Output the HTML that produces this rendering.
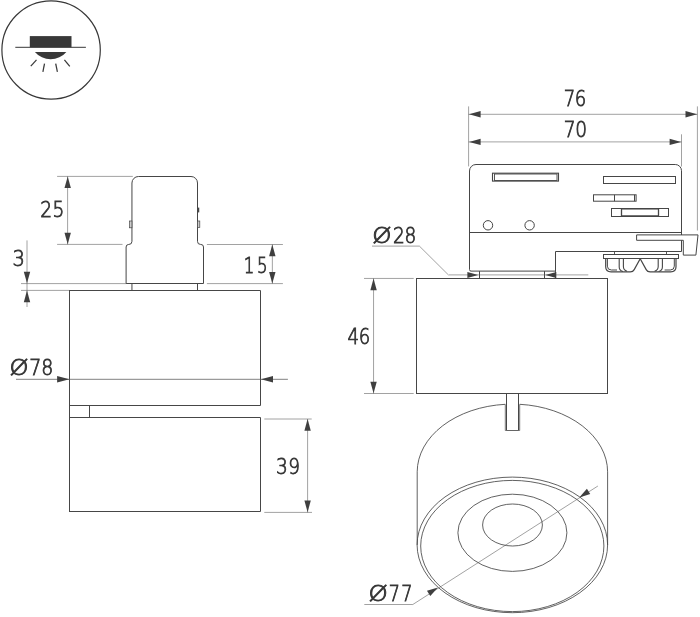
<!DOCTYPE html>
<html><head><meta charset="utf-8"><title>Drawing</title>
<style>html,body{margin:0;padding:0;background:#fff;overflow:hidden}svg{display:block;filter:grayscale(1)}text{font-family:"DejaVu Sans Light", "Liberation Sans", sans-serif}</style>
</head><body>
<svg width="700" height="617" viewBox="0 0 700 617">
<rect width="700" height="617" fill="#fff"/>
<circle cx="51.1" cy="50" r="49.2" fill="none" stroke="#383838" stroke-width="1.2"/>
<rect x="29.8" y="36.1" width="41.7" height="11.2" fill="#383838"/>
<line x1="15.30" y1="47.30" x2="85.90" y2="47.30" stroke="#383838" stroke-width="1.0"/>
<path d="M34.9 51.9 A20.6 20.6 0 0 0 66.4 51.9 Z" fill="#383838"/>
<line x1="36.50" y1="59.90" x2="30.80" y2="66.10" stroke="#383838" stroke-width="1.25"/>
<line x1="44.50" y1="63.70" x2="42.90" y2="71.80" stroke="#383838" stroke-width="1.25"/>
<line x1="55.70" y1="63.70" x2="57.40" y2="71.80" stroke="#383838" stroke-width="1.25"/>
<line x1="64.40" y1="59.80" x2="69.80" y2="66.30" stroke="#383838" stroke-width="1.25"/>
<path d="M126.1 283.5 L126.1 247.0 A2.6 2.6 0 0 1 128.7 244.45 L128.9 244.45 A3.05 3.1 0 0 0 131.95 241.35 L131.95 183.0 A6.5 6.5 0 0 1 138.45 176.5 L191.0 176.5 A6.5 6.5 0 0 1 197.5 183.0 L197.5 241.35 A3.1 3.1 0 0 0 200.6 244.45 L200.9 244.45 A2.6 2.6 0 0 1 203.5 247.0 L203.5 283.5 Z" stroke="#464646" stroke-width="1.0" fill="none" />
<rect x="129.60" y="221.00" width="2.35" height="6.80" stroke="#464646" stroke-width="0.7" fill="#ccc"/>
<rect x="197.50" y="221.00" width="2.30" height="6.40" stroke="#464646" stroke-width="0.7" fill="#ccc"/>
<line x1="198.50" y1="207.60" x2="198.50" y2="212.40" stroke="#464646" stroke-width="1.5"/>
<line x1="131.95" y1="283.50" x2="131.95" y2="290.50" stroke="#464646" stroke-width="1.0"/>
<line x1="197.50" y1="283.50" x2="197.50" y2="290.50" stroke="#464646" stroke-width="1.0"/>
<path d="M69.5 290.5 L260.5 290.5 L260.5 405.5 L69.5 405.5" stroke="#464646" stroke-width="1.0" fill="none" />
<path d="M69.5 417.5 L260.5 417.5 L260.5 511.5 L69.5 511.5" stroke="#464646" stroke-width="1.0" fill="none" />
<line x1="69.50" y1="290.00" x2="69.50" y2="512.00" stroke="#464646" stroke-width="1.0"/>
<line x1="89.50" y1="405.50" x2="89.50" y2="417.60" stroke="#464646" stroke-width="1.0"/>
<line x1="57.10" y1="176.40" x2="132.80" y2="176.40" stroke="#555" stroke-width="0.55"/>
<line x1="57.10" y1="244.40" x2="122.50" y2="244.40" stroke="#555" stroke-width="0.55"/>
<line x1="67.60" y1="176.40" x2="67.60" y2="244.40" stroke="#555" stroke-width="0.55"/>
<polygon points="67.70,176.50 70.90,188.10 64.50,188.10" fill="#3f3f3f"/>
<polygon points="67.70,244.30 64.50,232.70 70.90,232.70" fill="#3f3f3f"/>
<text y="217.47" font-family="'DejaVu Sans Light', 'Liberation Sans', sans-serif" font-size="21.28" fill="#363636" stroke="#363636" stroke-width="0.85"><tspan x="40.37" textLength="24.33" lengthAdjust="spacingAndGlyphs" letter-spacing="0.338">25</tspan></text>
<line x1="21.00" y1="283.60" x2="126.10" y2="283.60" stroke="#555" stroke-width="0.55"/>
<line x1="21.00" y1="290.40" x2="69.50" y2="290.40" stroke="#555" stroke-width="0.55"/>
<line x1="27.00" y1="240.40" x2="27.00" y2="307.00" stroke="#555" stroke-width="0.55"/>
<polygon points="27.00,283.30 23.80,271.70 30.20,271.70" fill="#3f3f3f"/>
<polygon points="27.00,290.60 30.20,302.20 23.80,302.20" fill="#3f3f3f"/>
<text y="266.12" font-family="'DejaVu Sans Light', 'Liberation Sans', sans-serif" font-size="21.14" fill="#363636" stroke="#363636" stroke-width="0.85"><tspan x="12.42" textLength="12.38" lengthAdjust="spacingAndGlyphs">3</tspan></text>
<line x1="206.90" y1="244.50" x2="282.90" y2="244.50" stroke="#555" stroke-width="0.55"/>
<line x1="206.90" y1="283.60" x2="282.90" y2="283.60" stroke="#555" stroke-width="0.55"/>
<line x1="272.35" y1="244.50" x2="272.35" y2="283.60" stroke="#555" stroke-width="0.55"/>
<polygon points="272.30,244.60 275.50,256.20 269.10,256.20" fill="#3f3f3f"/>
<polygon points="272.30,283.50 269.10,271.90 275.50,271.90" fill="#3f3f3f"/>
<text y="272.87" font-family="'DejaVu Sans Light', 'Liberation Sans', sans-serif" font-size="20.87" fill="#363636" stroke="#363636" stroke-width="0.85"><tspan x="243.74" textLength="26.68" lengthAdjust="spacingAndGlyphs" letter-spacing="3.448">15</tspan></text>
<line x1="16.00" y1="379.30" x2="287.90" y2="379.30" stroke="#555" stroke-width="0.75"/>
<polygon points="69.40,379.30 57.10,382.60 57.10,376.00" fill="#3f3f3f"/>
<polygon points="261.00,379.30 273.00,376.00 273.00,382.60" fill="#3f3f3f"/>
<text y="374.92" font-family="'DejaVu Sans Light', 'Liberation Sans', sans-serif" font-size="21.01" fill="#363636" stroke="#363636" stroke-width="0.85"><tspan x="9.42" textLength="19.09" lengthAdjust="spacingAndGlyphs">Ø</tspan><tspan x="29.36" textLength="23.83" lengthAdjust="spacingAndGlyphs" letter-spacing="-0.184">78</tspan></text>
<line x1="264.30" y1="419.00" x2="311.70" y2="419.00" stroke="#555" stroke-width="0.55"/>
<line x1="264.30" y1="512.40" x2="312.00" y2="512.40" stroke="#555" stroke-width="0.55"/>
<line x1="307.60" y1="419.00" x2="307.60" y2="512.40" stroke="#555" stroke-width="0.55"/>
<polygon points="307.60,419.10 310.80,430.70 304.40,430.70" fill="#3f3f3f"/>
<polygon points="307.60,512.20 304.40,500.60 310.80,500.60" fill="#3f3f3f"/>
<text y="474.17" font-family="'DejaVu Sans Light', 'Liberation Sans', sans-serif" font-size="21.01" fill="#363636" stroke="#363636" stroke-width="0.85"><tspan x="276.09" textLength="24.16" lengthAdjust="spacingAndGlyphs" letter-spacing="0.381">39</tspan></text>
<line x1="468.60" y1="106.40" x2="468.60" y2="166.40" stroke="#555" stroke-width="0.55"/>
<line x1="681.50" y1="134.30" x2="681.50" y2="166.50" stroke="#555" stroke-width="0.55"/>
<line x1="697.40" y1="106.40" x2="697.40" y2="230.50" stroke="#555" stroke-width="0.55"/>
<line x1="468.60" y1="114.30" x2="697.40" y2="114.30" stroke="#555" stroke-width="0.55"/>
<line x1="468.60" y1="141.90" x2="681.50" y2="141.90" stroke="#555" stroke-width="0.55"/>
<polygon points="469.00,114.30 480.60,111.10 480.60,117.50" fill="#3f3f3f"/>
<polygon points="697.10,114.30 685.50,117.50 685.50,111.10" fill="#3f3f3f"/>
<polygon points="469.00,141.90 480.60,138.70 480.60,145.10" fill="#3f3f3f"/>
<polygon points="681.20,141.90 669.60,145.10 669.60,138.70" fill="#3f3f3f"/>
<text y="106.02" font-family="'DejaVu Sans Light', 'Liberation Sans', sans-serif" font-size="21.14" fill="#363636" stroke="#363636" stroke-width="0.85"><tspan x="563.83" textLength="22.08" lengthAdjust="spacingAndGlyphs" letter-spacing="-0.567">76</tspan></text>
<text y="136.62" font-family="'DejaVu Sans Light', 'Liberation Sans', sans-serif" font-size="20.87" fill="#363636" stroke="#363636" stroke-width="0.85"><tspan x="563.79" textLength="23.04" lengthAdjust="spacingAndGlyphs" letter-spacing="-0.320">70</tspan></text>
<path d="M469.5 269.6 L469.5 171.0 A6.5 6.5 0 0 1 476.0 164.5 L675.3 164.5 A6.2 6.2 0 0 1 681.5 170.7 L681.5 251.5 L555.5 251.5 L555.5 271.1 L471.0 271.1 A1.5 1.5 0 0 1 469.5 269.6 Z" stroke="#464646" stroke-width="1.0" fill="none" />
<line x1="469.50" y1="232.50" x2="681.50" y2="232.50" stroke="#464646" stroke-width="1.0"/>
<line x1="555.50" y1="271.10" x2="555.50" y2="278.50" stroke="#464646" stroke-width="1.0"/>
<rect x="492.50" y="173.20" width="66.00" height="7.90" stroke="#464646" stroke-width="1.1" fill="none"/>
<rect x="494.50" y="174.00" width="62.50" height="6.50" stroke="#464646" stroke-width="0.9" fill="none"/>
<rect x="603.50" y="176.50" width="72.00" height="7.00" stroke="#464646" stroke-width="1.0" fill="none"/>
<rect x="593.50" y="194.80" width="42.60" height="6.40" stroke="#464646" stroke-width="1.0" fill="none"/>
<line x1="614.50" y1="194.80" x2="614.50" y2="201.20" stroke="#464646" stroke-width="1.0"/>
<line x1="634.50" y1="194.80" x2="634.50" y2="201.20" stroke="#464646" stroke-width="1.0"/>
<rect x="611.50" y="208.50" width="57.00" height="8.00" stroke="#464646" stroke-width="1.0" fill="none"/>
<rect x="621.50" y="208.90" width="37.00" height="7.00" stroke="#464646" stroke-width="1.3" fill="none"/>
<circle cx="488.0" cy="225.3" r="4.7" fill="none" stroke="#464646" stroke-width="1.0"/>
<circle cx="529.6" cy="225.3" r="4.7" fill="none" stroke="#464646" stroke-width="1.0"/>
<path d="M636.6 234.9 L698.0 234.9 L695.9 255.1 L683.3 255.1 L683.3 240.3 L636.6 240.3 Z" stroke="#464646" stroke-width="1.0" fill="#fff" />
<rect x="614.50" y="251.50" width="52.00" height="3.00" stroke="#464646" stroke-width="0.9" fill="none"/>
<rect x="603.50" y="254.50" width="75.00" height="4.00" stroke="#464646" stroke-width="1.0" fill="#fff"/>
<path d="M605.7 258.7 L605.7 266.8 Q605.7 271.8 611.0 271.8 L630.3 271.8 Q633.0 271.8 634.2 269.6 L640.2 258.7" stroke="#464646" stroke-width="1.2" fill="none" />
<path d="M676.0 258.7 L676.0 266.8 Q676.0 271.8 670.7 271.8 L650.1 271.8 Q647.4 271.8 646.2 269.6 L640.2 258.7" stroke="#464646" stroke-width="1.2" fill="none" />
<path d="M607.4 258.7 L607.4 266.2 Q607.4 270.0 611.4 270.0 L617.0 270.0" stroke="#464646" stroke-width="1.0" fill="none" />
<path d="M674.3 258.7 L674.3 266.2 Q674.3 270.0 670.3 270.0 L664.6 270.0" stroke="#464646" stroke-width="1.0" fill="none" />
<path d="M619.2 258.7 L619.2 267.0 Q619.2 270.4 623.0 271.6" stroke="#464646" stroke-width="1.1" fill="none" />
<path d="M623.4 258.7 L623.4 266.6 Q623.4 270.2 627.0 271.3" stroke="#464646" stroke-width="1.1" fill="none" />
<path d="M662.4 258.7 L662.4 267.0 Q662.4 270.4 658.6 271.6" stroke="#464646" stroke-width="1.1" fill="none" />
<path d="M658.2 258.7 L658.2 266.6 Q658.2 270.2 654.6 271.3" stroke="#464646" stroke-width="1.1" fill="none" />
<line x1="479.50" y1="271.10" x2="479.50" y2="278.50" stroke="#464646" stroke-width="1.0"/>
<line x1="544.50" y1="271.10" x2="544.50" y2="278.50" stroke="#464646" stroke-width="1.0"/>
<line x1="448.60" y1="274.90" x2="588.30" y2="274.90" stroke="#555" stroke-width="0.55"/>
<polygon points="478.20,274.90 467.40,277.90 467.40,271.90" fill="#3f3f3f"/>
<polygon points="545.30,274.90 556.30,271.90 556.30,277.90" fill="#3f3f3f"/>
<path d="M372.0 246.1 L419.4 246.1 L448.4 274.9" stroke="#555" stroke-width="0.55" fill="none" />
<text y="242.92" font-family="'DejaVu Sans Light', 'Liberation Sans', sans-serif" font-size="21.01" fill="#363636" stroke="#363636" stroke-width="0.85"><tspan x="372.20" textLength="19.33" lengthAdjust="spacingAndGlyphs">Ø</tspan><tspan x="392.97" textLength="23.04" lengthAdjust="spacingAndGlyphs" letter-spacing="-0.333">28</tspan></text>
<rect x="416.50" y="278.50" width="191.00" height="115.00" stroke="#464646" stroke-width="1.0" fill="none"/>
<line x1="364.00" y1="278.45" x2="413.70" y2="278.45" stroke="#555" stroke-width="0.55"/>
<line x1="364.00" y1="393.50" x2="413.70" y2="393.50" stroke="#555" stroke-width="0.55"/>
<line x1="373.55" y1="278.50" x2="373.55" y2="393.50" stroke="#555" stroke-width="0.55"/>
<polygon points="373.55,278.60 376.75,290.20 370.35,290.20" fill="#3f3f3f"/>
<polygon points="373.55,393.30 370.35,381.70 376.75,381.70" fill="#3f3f3f"/>
<text y="344.17" font-family="'DejaVu Sans Light', 'Liberation Sans', sans-serif" font-size="21.01" fill="#363636" stroke="#363636" stroke-width="0.85"><tspan x="347.57" textLength="22.38" lengthAdjust="spacingAndGlyphs" letter-spacing="-0.399">46</tspan></text>
<path d="M506.5 393.5 L506.5 430.5 L518.5 430.5 L518.5 393.5" stroke="#464646" stroke-width="1.0" fill="none" />
<path d="M505.3 404.4 L505.3 430.5 L519.7 430.5 L519.7 404.4" stroke="#6a6a6a" stroke-width="0.9" fill="none" />
<path d="M417.2 545 L417.2 471.8 A95.2 67.8 0 0 1 505.3 404.3" stroke="#464646" stroke-width="0.85" fill="none" />
<path d="M519.7 404.3 A95.2 67.8 0 0 1 607.6 471.8 L607.6 545" stroke="#464646" stroke-width="0.85" fill="none" />
<ellipse cx="512.35" cy="544.9" rx="95.25" ry="67.8" fill="none" stroke="#464646" stroke-width="0.85"/>
<ellipse cx="512.3" cy="546.0" rx="91.6" ry="65.6" fill="none" stroke="#464646" stroke-width="0.85"/>
<ellipse cx="512.4" cy="532.8" rx="54.5" ry="38.6" fill="none" stroke="#464646" stroke-width="0.85"/>
<ellipse cx="512.5" cy="525.0" rx="29.9" ry="21.0" fill="none" stroke="#464646" stroke-width="0.85"/>
<path d="M364.3 604.5 L412.8 604.5 L597.9 486.0" stroke="#555" stroke-width="0.55" fill="none" />
<polygon points="437.90,587.40 430.30,595.94 426.96,590.71" fill="#3f3f3f"/>
<polygon points="579.30,497.40 586.90,488.86 590.24,494.09" fill="#3f3f3f"/>
<text y="600.72" font-family="'DejaVu Sans Light', 'Liberation Sans', sans-serif" font-size="21.01" fill="#363636" stroke="#363636" stroke-width="0.85"><tspan x="368.50" textLength="19.33" lengthAdjust="spacingAndGlyphs">Ø</tspan><tspan x="388.76" textLength="24.80" lengthAdjust="spacingAndGlyphs" letter-spacing="1.401">77</tspan></text>
</svg>
</body></html>
